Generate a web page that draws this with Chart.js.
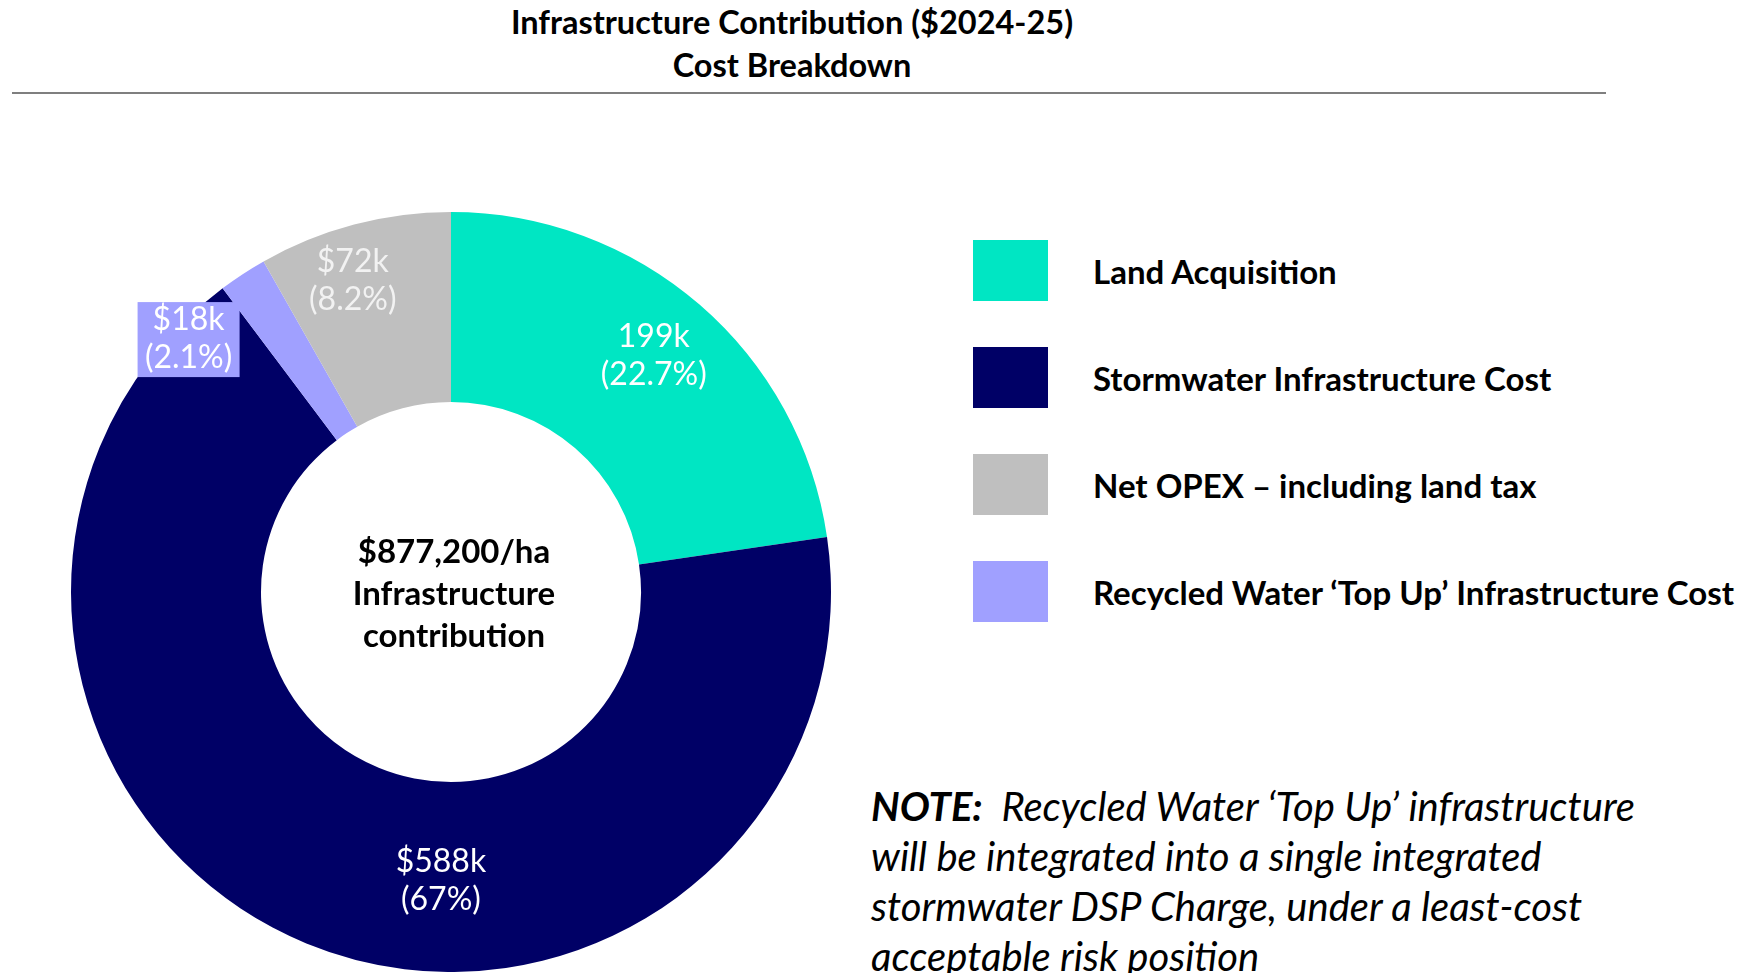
<!DOCTYPE html>
<html>
<head>
<meta charset="utf-8">
<script src="https://cdn.jsdelivr.net/npm/chart.js@4.4.1/dist/chart.umd.min.js"></script>
<style>
  html, body { margin: 0; padding: 0; background: #fff; overflow: hidden; }
  body { width: 1751px; height: 973px; position: relative; font-family: Lato, "Open Sans", sans-serif; color: #000; }
  .title { position: absolute; left: 0; width: 1584px; text-align: center; font-weight: 700; font-size: 32.5px; line-height: 40px; }
  .rule { position: absolute; left: 12px; width: 1594px; top: 92px; height: 2px; background: #7f7f7f; }
  #donut { position: absolute; left: 71px; top: 212px; }
  .leg-item { position: absolute; left: 973px; height: 61px; display: flex; align-items: center; }
  .leg-box { width: 75px; height: 61px; margin-right: 45px; }
  .leg-text { font-weight: 700; font-size: 33px; white-space: nowrap; }
  .note { position: absolute; left: 871px; top: 781px; font-style: italic; font-size: 40px; line-height: 50px; white-space: nowrap; }
</style>
</head>
<body>
<div class="title" style="top:2px">Infrastructure Contribution ($2024-25)</div>
<div class="title" style="top:45px">Cost Breakdown</div>
<div class="rule"></div>
<canvas id="donut" width="760" height="760"></canvas>
<div id="legend"></div>
<div class="note"><b>NOTE:</b>&nbsp; Recycled Water ‘Top Up’ infrastructure<br>will be integrated into a single integrated<br>stormwater DSP Charge, under a least-cost<br>acceptable risk position</div>

<script>
// slices, in the order they run clockwise from 12 o'clock
const categories = ['Land Acquisition', 'Stormwater Infrastructure Cost', 'Recycled Water ‘Top Up’ Infrastructure Cost', 'Net OPEX – including land tax'];
const values = [199, 588, 18, 72];            // $k per ha
const valueLabels = ['199k', '$588k', '$18k', '$72k'];
const pctLabels = ['(22.7%)', '(67%)', '(2.1%)', '(8.2%)'];
const centerLines = ['$877,200/ha', 'Infrastructure', 'contribution'];
const legendOrder = [0, 1, 3, 2];

const colors = ['#00E6C3', '#000066', '#A0A0FF', '#BFBFBF'];
// where each slice label sits: [degrees clockwise from top, fraction of outer radius]
const labelAt = [[40.6, 0.82], [182, 0.76], [314, 0.96], [342.5, 0.86]];
const labelBox = [null, null, { w: 102, h: 75 }, null];

const sliceLabels = {
  id: 'sliceLabels',
  afterDatasetsDraw(chart) {
    const ctx = chart.ctx;
    const arcs = chart.getDatasetMeta(0).data;
    ctx.save();
    ctx.textAlign = 'center';
    ctx.textBaseline = 'middle';
    arcs.forEach((arc, i) => {
      const a = labelAt[i][0] * Math.PI / 180;
      const r = arc.outerRadius * labelAt[i][1];
      const x = arc.x + r * Math.sin(a);
      const y = arc.y - r * Math.cos(a);
      if (labelBox[i]) {
        ctx.fillStyle = colors[i];
        ctx.fillRect(x - labelBox[i].w / 2, y - labelBox[i].h / 2 + 1, labelBox[i].w, labelBox[i].h);
      }
      ctx.fillStyle = i === 3 ? '#F2F2F2' : '#FFFFFF';
      ctx.font = '32px Lato, "Open Sans", sans-serif';
      ctx.fillText(valueLabels[i], x, y - 19);
      ctx.fillText(pctLabels[i], x, y + 19);
    });
    // centre text
    const c = arcs[0];
    ctx.fillStyle = '#000';
    ctx.font = 'bold 33px Lato, "Open Sans", sans-serif';
    centerLines.forEach((t, k) => ctx.fillText(t, c.x + 3, c.y + 2 + (k - 1) * 42));
    ctx.restore();
  }
};

const chart = new Chart(document.getElementById('donut'), {
  type: 'doughnut',
  data: {
    labels: categories,
    datasets: [{
      data: values,
      backgroundColor: colors,
      borderWidth: 0
    }]
  },
  options: {
    responsive: false,
    animation: false,
    devicePixelRatio: 1,
    cutout: '50%',
    layout: { padding: 0 },
    plugins: { legend: { display: false }, tooltip: { enabled: false } }
  },
  plugins: [sliceLabels]
});

// legend built from the chart's own labels
const legendEl = document.getElementById('legend');
const items = chart.options.plugins.legend.labels.generateLabels(chart);
legendOrder.forEach((idx, row) => {
  const it = items[idx];
  const div = document.createElement('div');
  div.className = 'leg-item';
  div.style.top = (240 + row * 107) + 'px';
  div.innerHTML = '<div class="leg-box" style="background:' + it.fillStyle + '"></div><div class="leg-text">' + it.text + '</div>';
  legendEl.appendChild(div);
});
</script>
</body>
</html>
